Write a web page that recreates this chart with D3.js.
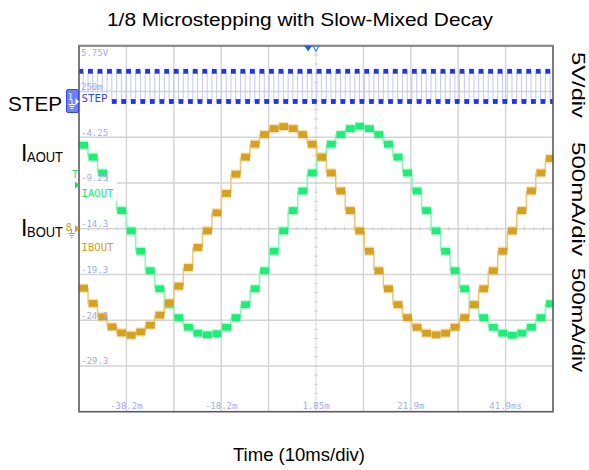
<!DOCTYPE html>
<html><head><meta charset="utf-8">
<script src="https://cdn.jsdelivr.net/npm/d3@7/dist/d3.min.js"></script>
<style>body{margin:0;background:#fff}svg{display:block}</style>
</head><body><svg id="c" width="589" height="470"></svg>
<script>
// ---- data ----
const stepTimes = [-48.25,-46.24,-44.23,-42.22,-40.21,-38.20,-36.19,-34.18,-32.17,-30.16,
  -28.15,-26.14,-24.13,-22.12,-20.11,-18.10,-16.09,-14.08,-12.07,-10.06,
  -8.05,-6.04,-4.03,-2.02,-0.01,2.00,4.01,6.02,8.03,10.04,
  12.05,14.06,16.07,18.08,20.09,22.10,24.11,26.12,28.13,30.14,
  32.15,34.16,36.17,38.18,40.19,42.20,44.21,46.22,48.23,50.24]; // ms
const iaout = [912,782,609,400,198,-24,-246,-460,-657,-830,
  -972,-1077,-1142,-1160,-1148,-1077,-972,-830,-657,-460,
  -246,-24,198,412,609,782,924,1029,1094,1120,
  1094,1029,924,782,609,412,198,-24,-246,-460,
  -657,-830,-972,-1077,-1142,-1164,-1142,-1077,-972,-820]; // mA
const ibout = [-650,-817,-964,-1073,-1139,-1164,-1128,-1055,-945,-811,
  -628,-424,-205,-24,173,385,596,782,924,1029,
  1094,1116,1094,1029,924,782,609,412,198,-24,
  -246,-460,-657,-830,-972,-1077,-1142,-1160,-1142,-1077,
  -972,-830,-657,-460,-246,-24,198,412,609,767]; // mA
const stepHigh = 3.3, stepLow = 0, stepPulseWidth = 1.0; // V, V, ms
const timeTicks = [-38.15,-18.15,1.85,21.85,41.85];
const timeTickLabels = ["-38.2m","-18.2m","1.85m","21.9m","41.9ms"];
const levelLabels = ["5.75V","250m","-4.25","-9.25","-14.3","-19.3","-24.3","-29.3"];
const rightLabels = ["5V/div","500mA/div","500mA/div"];

// ---- layout ----
const L=79, R=553, T=45.7, B=411.7;
const svg = d3.select("#c");
const x = d3.scaleLinear().domain([-48.15, 51.85]).range([L,R]);
const y = d3.scaleLinear().domain([-2000,2000]).range([B,T]);
const ys = d3.scaleLinear().domain([0,5]).range([101.5, 101.5-45.75]);
const gridT = d3.range(11).map(i=>-48.15+10*i);
const gridI = d3.range(9).map(i=>-2000+500*i);

// title
svg.append("text").attr("x",300).attr("y",26).attr("text-anchor","middle")
  .attr("font-family","Liberation Sans, Arial, sans-serif").attr("font-size",18)
  .attr("textLength",386).attr("lengthAdjust","spacingAndGlyphs")
  .text("1/8 Microstepping with Slow-Mixed Decay");
svg.append("text").attr("x",299).attr("y",461).attr("text-anchor","middle")
  .attr("font-family","Liberation Sans, Arial, sans-serif").attr("font-size",18)
  .attr("textLength",132).attr("lengthAdjust","spacingAndGlyphs")
  .text("Time (10ms/div)");

// grid
const g = svg.append("g");
g.selectAll("line.v").data(gridT.slice(1,-1)).join("line")
  .attr("x1",d=>x(d)).attr("x2",d=>x(d)).attr("y1",T).attr("y2",B)
  .attr("stroke",(d,i)=>i===4?"#e2e2e2":"#d4d4d4").attr("stroke-width",1.4);
g.selectAll("line.h").data(gridI.slice(1,-1)).join("line")
  .attr("y1",d=>y(d)).attr("y2",d=>y(d)).attr("x1",L).attr("x2",R)
  .attr("stroke","#d4d4d4").attr("stroke-width",1.4);
// center minor ticks
const cx = x(1.85), cy = y(0);
g.selectAll("line.tv").data(d3.range(-2000,2001,100)).join("line")
  .attr("x1",cx-2).attr("x2",cx+2).attr("y1",d=>y(d)).attr("y2",d=>y(d))
  .attr("stroke","#cfcfcf").attr("stroke-width",1);
g.selectAll("line.th").data(d3.range(-48.15,51.86,2)).join("line")
  .attr("x1",d=>x(d)).attr("x2",d=>x(d)).attr("y1",cy-2).attr("y2",cy+2)
  .attr("stroke","#cfcfcf").attr("stroke-width",1);

// clip
svg.append("clipPath").attr("id","cp").append("rect")
  .attr("x",L).attr("y",T).attr("width",R-L).attr("height",B-T);
const tr = svg.append("g").attr("clip-path","url(#cp)");

// STEP trace
const sg = tr.append("g");
sg.selectAll("line.e1").data(stepTimes).join("line")
  .attr("x1",d=>x(d)).attr("x2",d=>x(d)).attr("y1",ys(stepLow)).attr("y2",ys(stepHigh))
  .attr("stroke","#c3c8f8").attr("stroke-width",1);
sg.selectAll("line.e2").data(stepTimes).join("line")
  .attr("x1",d=>x(d+stepPulseWidth)).attr("x2",d=>x(d+stepPulseWidth)).attr("y1",ys(stepLow)).attr("y2",ys(stepHigh))
  .attr("stroke","#c3c8f8").attr("stroke-width",1);
sg.selectAll("rect.hi").data(stepTimes).join("rect")
  .attr("x",d=>x(d+stepPulseWidth/2)-2.4).attr("width",4.8)
  .attr("y",ys(stepHigh)-2.4).attr("height",4.8).attr("fill","#1f34ee");
sg.selectAll("rect.lo").data(stepTimes).join("rect")
  .attr("x",d=>x(d+stepPulseWidth*1.5)-2.4).attr("width",4.8)
  .attr("y",ys(stepLow)-2.4).attr("height",4.8).attr("fill","#1f34ee");

// current traces
function drawCurrent(vals, col, light){
  const cg = tr.append("g");
  const segs = vals.map((v,k)=>({v, t0:stepTimes[k], t1: k+1<stepTimes.length? stepTimes[k+1] : 51.85, prev: k>0?vals[k-1]:v}));
  cg.selectAll("line.tr").data(segs.slice(1)).join("line")
    .attr("x1",d=>x(d.t0)).attr("x2",d=>x(d.t0)).attr("y1",d=>y(d.prev)).attr("y2",d=>y(d.v))
    .attr("stroke",light).attr("stroke-width",1.5);
  cg.selectAll("rect.fz").data(segs).join("rect")
    .attr("x",d=>x(d.t0)).attr("width",d=>x(d.t1)-x(d.t0))
    .attr("y",d=>y(d.v)-4.8).attr("height",9.6).attr("fill",light).attr("opacity",0.5);
  cg.selectAll("rect.bd").data(segs).join("rect")
    .attr("x",d=>x(d.t0)+0.6).attr("width",d=>x(d.t1)-x(d.t0)-0.6)
    .attr("y",d=>y(d.v)-3.4).attr("height",6.8).attr("fill",col);
}
drawCurrent(iaout,"#20ec78","#8ff5b8");
drawCurrent(ibout,"#d6a021","#ecc877");

// level labels (drawn over traces)
const labColor="#a3aaf0";
svg.selectAll("text.lv").data(levelLabels).join("text")
  .attr("x",81).attr("y",(d,i)=> i===0 ? T+9.8 : y(gridI[8-i])-1.6)
  .attr("font-family","DejaVu Sans Mono, monospace").attr("font-size",9)
  .attr("fill",labColor).text(d=>d);
svg.selectAll("text.tl").data(timeTicks).join("text")
  .attr("x",d=>x(d)).attr("y",409).attr("text-anchor","middle")
  .attr("font-family","DejaVu Sans Mono, monospace").attr("font-size",9)
  .attr("fill",labColor).text((d,i)=>timeTickLabels[i]);

// in-plot channel labels with white boxes
svg.append("rect").attr("x",L+1).attr("y",92.5).attr("width",31).attr("height",12).attr("fill","#fff");
svg.append("text").attr("x",81.5).attr("y",101.7).attr("font-family","DejaVu Sans Mono, monospace")
  .attr("font-size",11).attr("fill","#3346ee").attr("textLength",26).attr("lengthAdjust","spacingAndGlyphs").text("STEP");
svg.append("rect").attr("x",L+1).attr("y",181.8).attr("width",37).attr("height",19).attr("fill","#fff");
svg.append("text").attr("x",81.5).attr("y",196.7).attr("font-family","DejaVu Sans Mono, monospace")
  .attr("font-size",11).attr("fill","#22e67a").attr("textLength",32).attr("lengthAdjust","spacingAndGlyphs").text("IAOUT");
svg.append("text").attr("x",81.5).attr("y",251).attr("font-family","DejaVu Sans Mono, monospace")
  .attr("font-size",11).attr("fill","#d4a020").attr("textLength",32).attr("lengthAdjust","spacingAndGlyphs").text("IBOUT");

// border
svg.append("rect").attr("x",L).attr("y",T).attr("width",R-L).attr("height",B-T)
  .attr("fill","none").attr("stroke","#5a5a5a").attr("stroke-width",1.6);
svg.append("line").attr("x1",L).attr("x2",R).attr("y1",T).attr("y2",T).attr("stroke","#8a8a8a").attr("stroke-width",2);

// top trigger markers
svg.append("path").attr("d",`M${x(0.2)-4},${T} L${x(0.2)+4},${T} L${x(0.2)},${T+5.5}Z`).attr("fill","#1d5de6");
svg.append("path").attr("d",`M${cx-2.8},${T+0.5} L${cx+2.8},${T+0.5} L${cx},${T+5.5}Z`).attr("fill","#fff").attr("stroke","#3b7ef0").attr("stroke-width",1.2);

// left markers
svg.append("rect").attr("x",66.5).attr("y",89.5).attr("width",12).attr("height",23).attr("rx",1.5)
  .attr("fill","#7080f2").attr("stroke","#3447e6").attr("stroke-width",1);
svg.append("text").attr("x",70.5).attr("y",100).attr("text-anchor","middle").attr("font-size",8)
  .attr("font-family","DejaVu Sans Mono, monospace").attr("fill","#fff").text("1");
svg.append("path").attr("d","M72,100 L72,104 M68.5,104.5 L75.5,104.5 M69.5,106.5 L74.5,106.5 M70.5,108.5 L73.5,108.5")
  .attr("stroke","#fff").attr("stroke-width",1);
svg.append("path").attr("d","M75.5,98 L79,101.5 L75.5,105Z").attr("fill","#fff");
svg.append("text").attr("x",75).attr("y",178).attr("text-anchor","middle").attr("font-size",10)
  .attr("font-family","DejaVu Sans Mono, monospace").attr("fill","#22e67a").text("T");
svg.append("path").attr("d","M75,181.5 L79.5,185 L75,188.5Z").attr("fill","#22d070");
svg.append("text").attr("x",68.7).attr("y",231).attr("text-anchor","middle").attr("font-size",10)
  .attr("font-family","DejaVu Sans Mono, monospace").attr("fill","#d4a020").text("8");
svg.append("path").attr("d","M71.5,229 L71.5,233 M68,233.5 L75,233.5 M69.5,235.5 L73.5,235.5 M70.5,237.5 L72.5,237.5")
  .attr("stroke","#d4a020").attr("stroke-width",1);
svg.append("path").attr("d","M75,225 L79.5,228.8 L75,232.6Z").attr("fill","#d4a020");

// left big labels
const ff="Liberation Sans, Arial, sans-serif";
svg.append("text").attr("x",8).attr("y",110.5).attr("font-family",ff).attr("font-size",21)
  .attr("textLength",54).attr("lengthAdjust","spacingAndGlyphs").text("STEP");
[["AOUT",161],["BOUT",235.5]].forEach(([s,b])=>{
  svg.append("text").attr("x",21).attr("y",b).attr("font-family",ff).attr("font-size",23).text("I");
  svg.append("text").attr("x",27).attr("y",b+1).attr("font-family",ff).attr("font-size",14)
    .attr("textLength",36).attr("lengthAdjust","spacingAndGlyphs").text(s);
});

// right labels (rotated)
const rl = [[85,66],[199,114],[320,104]];
rightLabels.forEach((t,i)=>{
  svg.append("text").attr("transform",`translate(572,${rl[i][0]}) rotate(90)`)
    .attr("text-anchor","middle").attr("font-family",ff).attr("font-size",18)
    .attr("textLength",rl[i][1]).attr("lengthAdjust","spacingAndGlyphs").text(t);
});
</script></body></html>
